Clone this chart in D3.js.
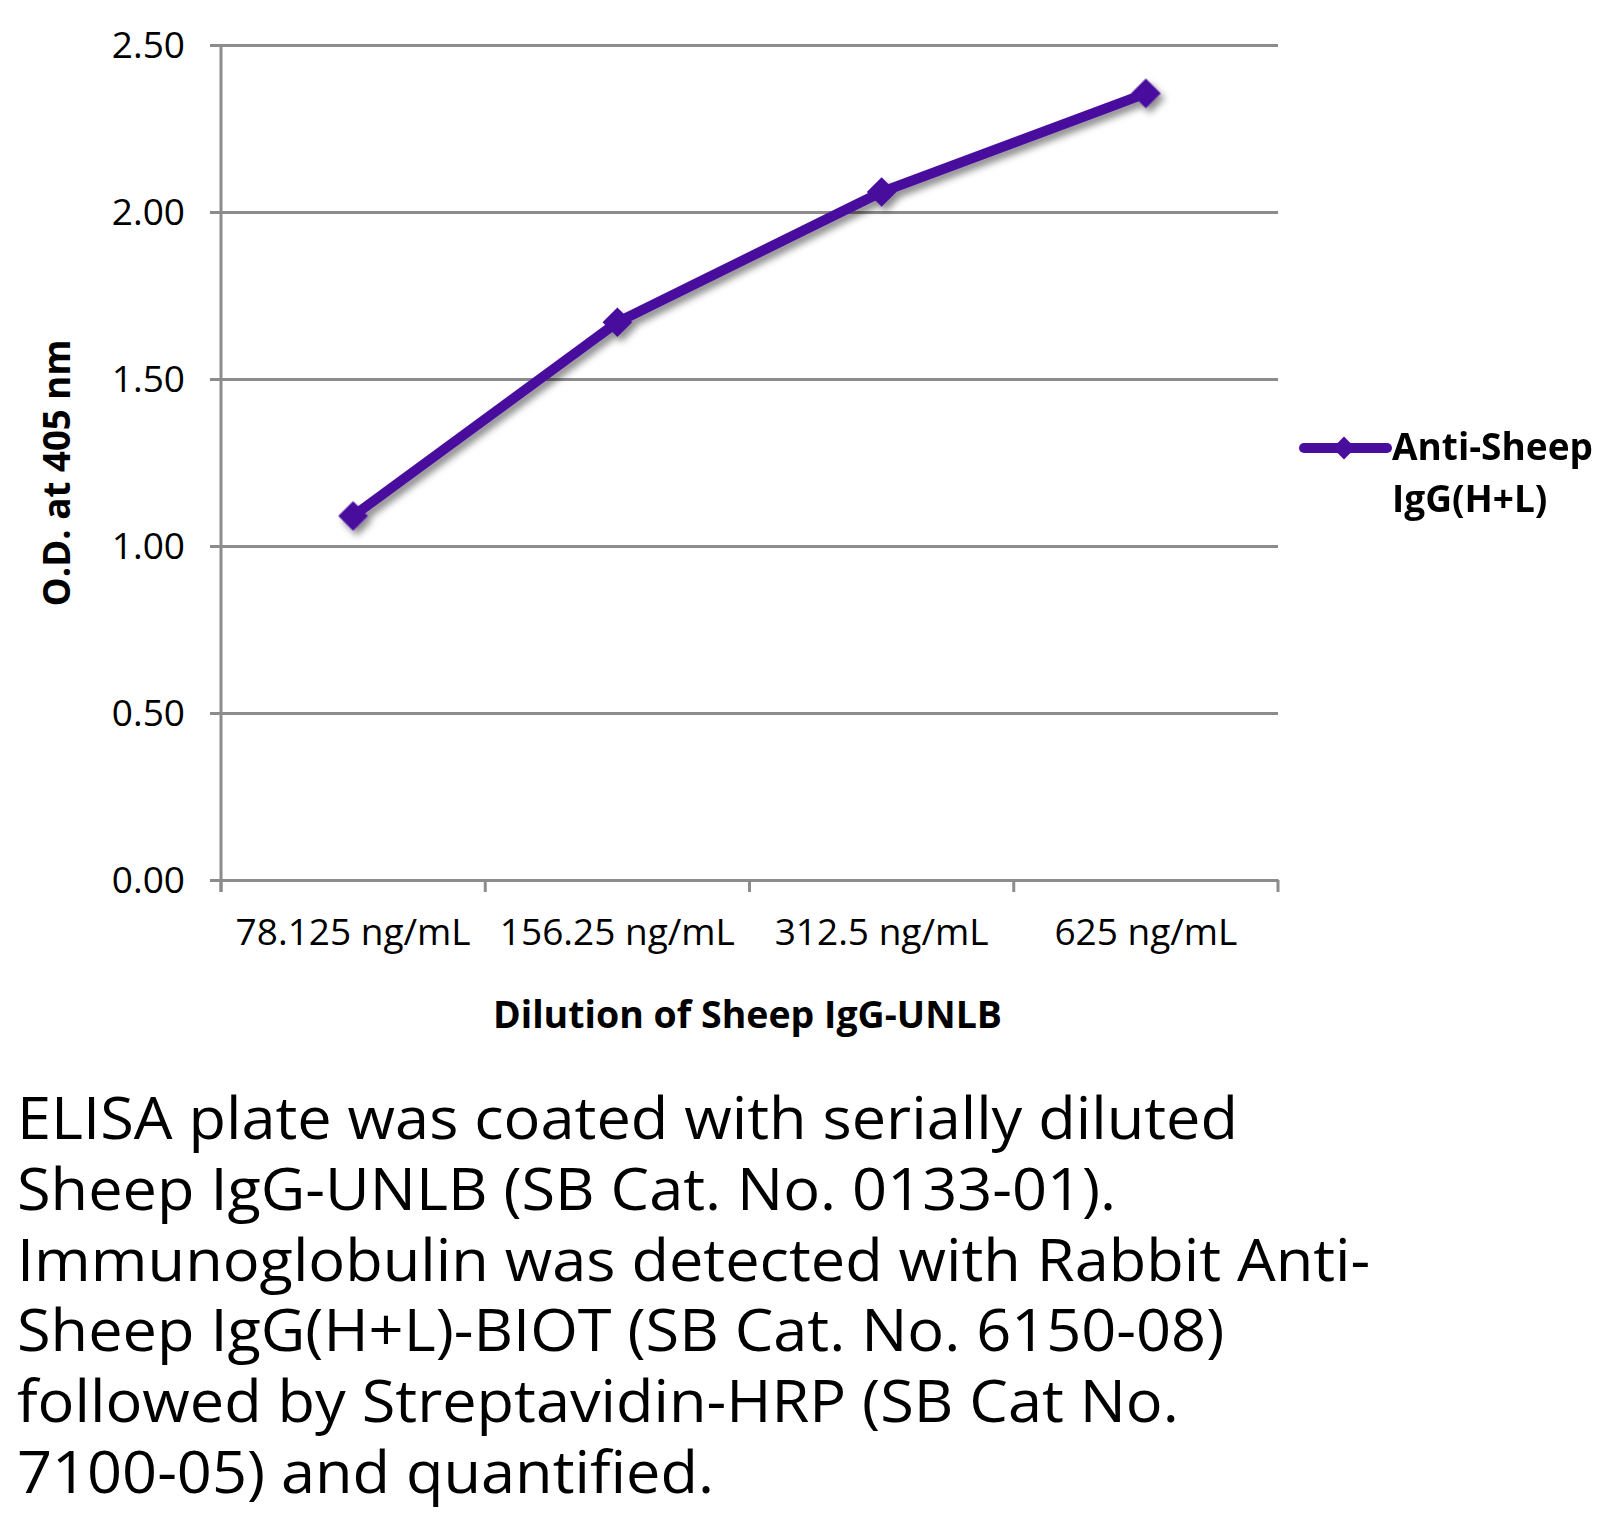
<!DOCTYPE html>
<html>
<head>
<meta charset="utf-8">
<script src="https://cdn.jsdelivr.net/npm/d3@7"></script>
<style>
  html, body { margin: 0; padding: 0; background: #fff; }
  svg { display: block; }
  text { font-family: "Open Sans", "Noto Sans", sans-serif; fill: #000; }
</style>
</head>
<body>
<svg id="chart" width="1620" height="1516"></svg>
<script>
// ---- data ----
const categories = ["78.125 ng/mL", "156.25 ng/mL", "312.5 ng/mL", "625 ng/mL"];
const odValues = [1.09, 1.67, 2.06, 2.355];
const yTicks = [0, 0.5, 1.0, 1.5, 2.0, 2.5];
const seriesName = ["Anti-Sheep", "IgG(H+L)"];
const xTitle = "Dilution of Sheep IgG-UNLB";
const yTitle = "O.D. at 405 nm";
const captionLines = [
  "ELISA plate was coated with serially diluted",
  "Sheep IgG-UNLB (SB Cat. No. 0133-01).",
  "Immunoglobulin was detected with Rabbit Anti-",
  "Sheep IgG(H+L)-BIOT (SB Cat. No. 6150-08)",
  "followed by Streptavidin-HRP (SB Cat No.",
  "7100-05) and quantified."
];

// ---- layout ----
const svg = d3.select("#chart");
const plot = { left: 221, right: 1278, top: 45, bottom: 880 };
const lineColor = "#4a0e9e";
const gridColor = "#8c8c8c";

const x = d3.scaleBand().domain(categories).range([plot.left, plot.right]);
const y = d3.scaleLinear().domain([0, 2.5]).range([plot.bottom, plot.top]);

const defs = svg.append("defs");
const f = defs.append("filter").attr("id", "shadow")
  .attr("x", "-20%").attr("y", "-20%").attr("width", "140%").attr("height", "140%");
f.append("feDropShadow").attr("dx", 4).attr("dy", 5).attr("stdDeviation", 3.5)
  .attr("flood-color", "#000").attr("flood-opacity", 0.45);

// gridlines + y axis
const yAxis = d3.axisLeft(y).tickValues(yTicks)
  .tickSize(-(plot.right - plot.left) - 11).tickPadding(0)
  .tickFormat(d3.format(".2f"));
const gy = svg.append("g").attr("transform", `translate(${plot.left - 11},0)`).call(yAxis);
gy.select(".domain").remove();
gy.selectAll(".tick line").attr("x1", 0).attr("x2", plot.right - plot.left + 11)
  .attr("stroke", gridColor).attr("stroke-width", 3);
gy.selectAll(".tick text")
  .attr("x", -25).attr("dy", null).attr("y", 12)
  .style("font-size", "37px").style("font-family", "'Open Sans'").attr("fill", "#000");

// vertical axis line
svg.append("line")
  .attr("x1", plot.left).attr("x2", plot.left)
  .attr("y1", y(2.5)).attr("y2", y(0) + 12)
  .attr("stroke", gridColor).attr("stroke-width", 3);

// x axis
const xAxis = d3.axisBottom(x).tickSize(0).tickPadding(0);
const gx = svg.append("g").attr("transform", `translate(0,${plot.bottom})`).call(xAxis);
gx.select(".domain").attr("stroke", gridColor).attr("stroke-width", 3);
gx.selectAll(".tick text").attr("dy", null).attr("y", 65)
  .style("font-size", "37px").style("font-family", "'Open Sans'").attr("fill", "#000");
// boundary tick marks between categories
const bounds = categories.map(c => x(c)).concat([x(categories[categories.length - 1]) + x.bandwidth()]);
gx.selectAll(".bound").data(bounds).enter().append("line")
  .attr("x1", d => d).attr("x2", d => d).attr("y1", 0).attr("y2", 12)
  .attr("stroke", gridColor).attr("stroke-width", 3);

// series line
const pts = categories.map((c, i) => [x(c) + x.bandwidth() / 2, y(odValues[i])]);
const g = svg.append("g").attr("filter", "url(#shadow)");
g.append("path").attr("d", d3.line()(pts))
  .attr("fill", "none").attr("stroke", lineColor).attr("stroke-width", 10)
  .attr("stroke-linejoin", "round").attr("stroke-linecap", "round");
const marker = d3.symbol().type(d3.symbolSquare).size(440);
g.selectAll(".pt").data(pts).enter().append("path")
  .attr("d", marker)
  .attr("transform", d => `translate(${d[0]},${d[1]}) rotate(45)`)
  .attr("fill", lineColor);

// axis titles
const xt = svg.append("text")
  .attr("x", (plot.left + plot.right) / 2 - 2).attr("y", 1028)
  .attr("text-anchor", "middle")
  .style("font-size", "37px").style("font-weight", 700)
  .text(xTitle);
xt.attr("textLength", 509).attr("lengthAdjust", "spacingAndGlyphs");

const yt = svg.append("text")
  .attr("transform", `translate(70,${473}) rotate(-90)`)
  .attr("text-anchor", "middle")
  .style("font-size", "37px").style("font-weight", 700)
  .text(yTitle);
yt.attr("textLength", 267).attr("lengthAdjust", "spacingAndGlyphs");

// legend
const lg = svg.append("g");
lg.append("line").attr("x1", 1304).attr("x2", 1387).attr("y1", 448).attr("y2", 448)
  .attr("stroke", lineColor).attr("stroke-width", 10).attr("stroke-linecap", "round");
lg.append("path").attr("d", d3.symbol().type(d3.symbolSquare).size(260))
  .attr("transform", "translate(1344,448) rotate(45)").attr("fill", lineColor);
lg.selectAll(".lt").data(seriesName).enter().append("text")
  .attr("x", 1392).attr("y", (d, i) => 460 + i * 52)
  .style("font-size", "37px").style("font-weight", 700)
  .text(d => d);

// caption
const cap = svg.append("g");
const capTexts = cap.selectAll(".cap").data(captionLines).enter().append("text")
  .attr("x", 17).attr("y", (d, i) => 1139 + i * 70.8)
  .style("font-size", "58px")
  .text(d => d);
const w0 = capTexts.nodes()[0].getComputedTextLength();
const k = 1221 / w0;
capTexts.each(function () {
  const w = this.getComputedTextLength();
  d3.select(this).attr("textLength", w * k).attr("lengthAdjust", "spacingAndGlyphs");
});
</script>
</body>
</html>
